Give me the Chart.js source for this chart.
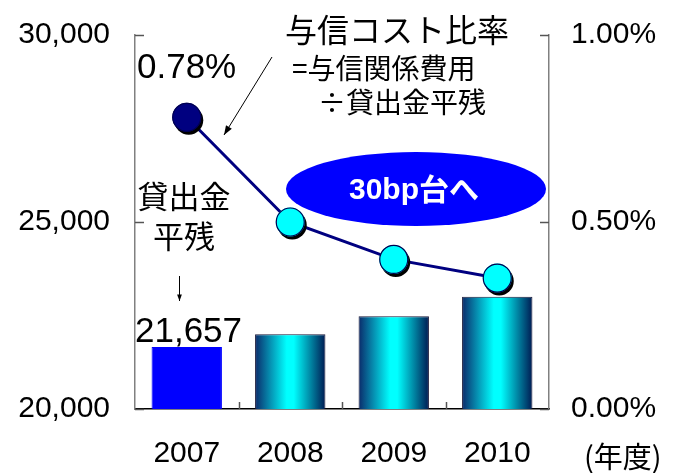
<!DOCTYPE html>
<html>
<head>
<meta charset="utf-8">
<script src="https://cdn.jsdelivr.net/npm/chart.js@4.4.1/dist/chart.umd.min.js"></script>
<style>
  body { margin: 0; background: #fff; }
  #wrap { width: 683px; height: 473px; }
</style>
</head>
<body>
<div id="wrap"><canvas id="chart" width="683" height="473"></canvas></div>
<script>
// データ
const years = ['2007', '2008', '2009', '2010'];
const loanBalance = [21657, 22000, 22480, 23000];   // 貸出金平残 (左軸)
const costRatio = [0.78, 0.50, 0.40, 0.35];         // 与信コスト比率 % (右軸)
const leftTicks = [20000, 25000, 30000];
const rightTicks = [0, 0.5, 1.0];

const LATIN = '"Liberation Sans", Arial, sans-serif';
const CJK = '"Noto Sans CJK JP", sans-serif';

// 棒のグラデーション (2007年だけ青の単色)
function barFill(c) {
    if (c.dataIndex === 0) return '#0000FF';
    const chart = c.chart;
    const xs = chart.scales.x;
    if (!xs || !chart.chartArea) return '#00CCEE';
    const cx = xs.getPixelForValue(c.dataIndex);
    const w = xs.width / years.length * 0.68;
    const g = chart.ctx.createLinearGradient(cx - w / 2, 0, cx + w / 2, 0);
    g.addColorStop(0, '#0b2a6a');
    g.addColorStop(0.45, '#00ffff');
    g.addColorStop(0.55, '#00ffff');
    g.addColorStop(1, '#001a52');
    return g;
}

function arrow(ctx, x1, y1, x2, y2, head) {
    const a = Math.atan2(y2 - y1, x2 - x1);
    ctx.beginPath();
    ctx.moveTo(x1, y1);
    ctx.lineTo(x2, y2);
    ctx.stroke();
    ctx.beginPath();
    ctx.moveTo(x2, y2);
    ctx.lineTo(x2 - head * Math.cos(a - 0.35), y2 - head * Math.sin(a - 0.35));
    ctx.lineTo(x2 - head * Math.cos(a + 0.35), y2 - head * Math.sin(a + 0.35));
    ctx.closePath();
    ctx.fill();
}

// 点の影 (塗りだけのデータセットに付ける)
const shadowPlugin = {
    id: 'pointShadow',
    beforeDatasetDraw(chart, args) {
        if (args.index !== 2) return;
        const ctx = chart.ctx;
        ctx.save();
        ctx.shadowColor = '#000';
        ctx.shadowOffsetX = 2;
        ctx.shadowOffsetY = 3;
        ctx.shadowBlur = 0;
    },
    afterDatasetDraw(chart, args) {
        if (args.index === 2) chart.ctx.restore();
    }
};

// 楕円 (線より下に描く)
const bubblePlugin = {
    id: 'bubble',
    beforeDatasetsDraw(chart) {
        const ctx = chart.ctx;
        ctx.save();
        ctx.fillStyle = '#0000FF';
        ctx.beginPath();
        ctx.ellipse(416, 189, 130, 37, 0, 0, Math.PI * 2);
        ctx.fill();
        ctx.fillStyle = '#fff';
        ctx.textBaseline = 'middle';
        const t1 = '30bp', t2 = '台へ';
        ctx.font = 'bold 30px ' + LATIN;
        const w1 = ctx.measureText(t1).width;
        ctx.font = 'bold 30px ' + CJK;
        const w2 = ctx.measureText(t2).width;
        const x0 = 414 - (w1 + w2) / 2;
        ctx.textAlign = 'left';
        ctx.font = 'bold 30px ' + LATIN;
        ctx.fillText(t1, x0, 191);
        ctx.font = 'bold 30px ' + CJK;
        ctx.fillText(t2, x0 + w1, 189);
        ctx.restore();
    }
};

// 内向きの目盛りと注記
const annotPlugin = {
    id: 'annot',
    afterDraw(chart) {
        const ctx = chart.ctx;
        const a = chart.chartArea;
        const y = chart.scales.y, y1 = chart.scales.y1, x = chart.scales.x;
        ctx.save();
        ctx.strokeStyle = '#555';
        ctx.lineWidth = 1.5;
        leftTicks.forEach(v => {
            const p = Math.round(y.getPixelForValue(v)) + 0.5;
            ctx.beginPath(); ctx.moveTo(a.left, p); ctx.lineTo(a.left + 9, p); ctx.stroke();
        });
        rightTicks.forEach(v => {
            const p = Math.round(y1.getPixelForValue(v)) + 0.5;
            ctx.beginPath(); ctx.moveTo(a.right - 9, p); ctx.lineTo(a.right, p); ctx.stroke();
        });
        for (let i = 1; i < years.length; i++) {
            const p = Math.round((x.getPixelForValue(i - 1) + x.getPixelForValue(i)) / 2) + 0.5;
            ctx.beginPath(); ctx.moveTo(p, a.bottom); ctx.lineTo(p, a.bottom - 7); ctx.stroke();
        }

        ctx.fillStyle = '#000';
        ctx.textBaseline = 'middle';
        ctx.textAlign = 'left';
        ctx.font = '32px ' + CJK;
        ctx.fillText('与信コスト比率', 285, 30);
        ctx.font = '28px ' + CJK;
        ctx.fillText('=与信関係費用', 292, 68);
        ctx.fillText('÷貸出金平残', 318, 102);

        ctx.font = '35px ' + LATIN;
        ctx.fillText(costRatio[0].toFixed(2) + '%', 137, 68);
        ctx.fillText(loanBalance[0].toLocaleString('en-US'), 135, 332);

        ctx.textAlign = 'center';
        ctx.font = '31px ' + CJK;
        ctx.fillText('貸出金', 184, 196);
        ctx.fillText('平残', 184, 236);

        ctx.textAlign = 'left';
        ctx.font = '29px ' + CJK;
        ctx.fillText('(年度)', 584, 457);

        ctx.strokeStyle = '#000';
        ctx.lineWidth = 1;
        arrow(ctx, 272, 57, 224, 135, 10);
        arrow(ctx, 179.5, 276, 179.5, 301, 7);
        ctx.restore();
    }
};

const tickFont = { family: LATIN, size: 30 };

new Chart(document.getElementById('chart'), {
    data: {
        labels: years,
        datasets: [{
            type: 'line',
            data: costRatio,
            yAxisID: 'y1',
            borderColor: '#000080',
            borderWidth: 3,
            pointRadius: 0,
            order: 2
        }, {
            type: 'bar',
            data: loanBalance,
            yAxisID: 'y',
            backgroundColor: barFill,
            borderColor: ['#0000FF', '#1a1a3a', '#1a1a3a', '#1a1a3a'],
            borderWidth: 1,
            categoryPercentage: 1,
            barPercentage: 0.68,
            order: 3
        }, {
            // 点の塗りと影
            type: 'line',
            data: costRatio,
            yAxisID: 'y1',
            showLine: false,
            pointRadius: 14.5,
            pointBackgroundColor: ['#000080', '#00FFFF', '#00FFFF', '#00FFFF'],
            pointBorderWidth: 0,
            order: 1
        }, {
            // 点の枠線
            type: 'line',
            data: costRatio,
            yAxisID: 'y1',
            showLine: false,
            pointRadius: 14,
            pointBackgroundColor: 'rgba(0,0,0,0)',
            pointBorderColor: '#000050',
            pointBorderWidth: 1.2,
            order: 0
        }]
    },
    options: {
        responsive: false,
        animation: false,
        devicePixelRatio: 1,
        layout: { padding: { top: 33, left: 0, right: 0, bottom: 0 } },
        plugins: { legend: { display: false }, tooltip: { enabled: false } },
        scales: {
            x: {
                offset: true,
                grid: { display: false },
                border: { color: '#000', width: 1.5 },
                ticks: { font: tickFont, color: '#000', padding: 19 },
                afterFit: s => { s.height = 64; }
            },
            y: {
                position: 'left',
                min: 20000,
                max: 30000,
                afterBuildTicks: s => { s.ticks = leftTicks.map(v => ({ value: v })); },
                grid: { display: false },
                border: { color: '#808080', width: 1.5 },
                ticks: { font: tickFont, color: '#000', padding: 17,
                         callback: v => v.toLocaleString('en-US') },
                afterFit: s => { s.width = 135; }
            },
            y1: {
                position: 'right',
                min: 0,
                max: 1,
                afterBuildTicks: s => { s.ticks = rightTicks.map(v => ({ value: v })); },
                grid: { display: false },
                border: { color: '#808080', width: 1.5 },
                ticks: { font: tickFont, color: '#000', padding: 14,
                         callback: v => v.toFixed(2) + '%' },
                afterFit: s => { s.width = 134; }
            }
        }
    },
    plugins: [shadowPlugin, bubblePlugin, annotPlugin]
});
</script>
</body>
</html>
